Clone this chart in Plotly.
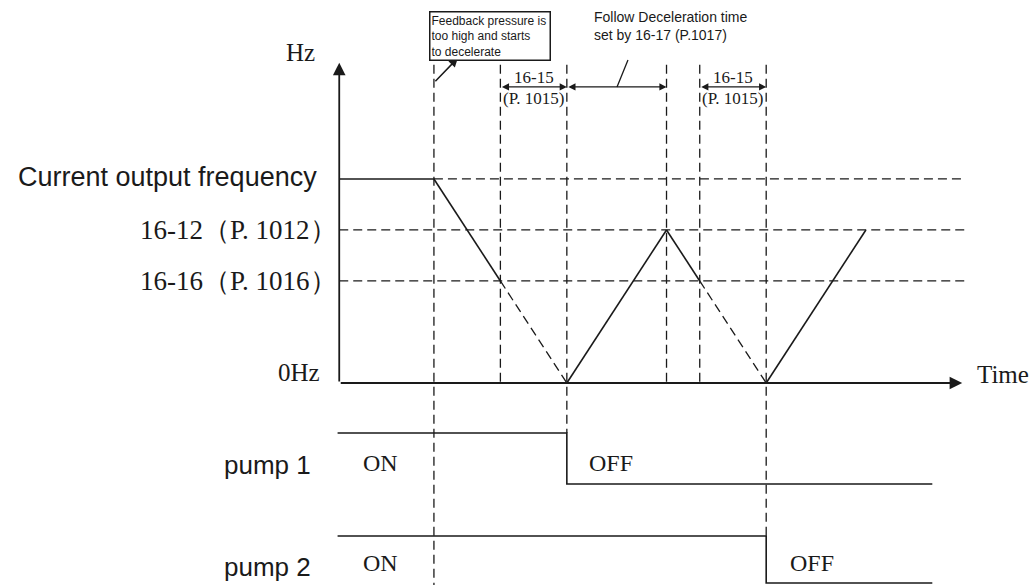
import plotly.graph_objects as go

# ---------------- data (time units / normalised frequency units) ----------------
EVENT_T = [3, 5, 7, 10, 11, 13, 16]          # event instants on the time axis
AXIS_T0 = 0.15                                # origin of the time axis
AXIS_T_END = 18.9                             # arrow tip of the time axis
REF_T_END = 19.0                              # end of horizontal reference lines
FREQ_TOP = 1.57                               # arrow tip of the Hz axis

LEVEL_NAMES = ["Current output frequency", "16-12（P. 1012）", "16-16（P. 1016）", "0Hz"]
LEVEL_VALUES = [1.0, 0.75, 0.5, 0.0]

CURVE_T = [0.15, 3, 5, 7, 10, 11, 13, 16]
CURVE_F = [1.0, 1.0, 0.5, 0.0, 0.75, 0.5, 0.0, 0.75]
CURVE_SEG_STYLE = ["solid", "solid", "dash", "solid", "solid", "dash", "solid"]

VLINE_T = [3, 5, 7, 10, 11, 13]
VLINE_TOP = [1.56, 1.56, 1.56, 1.56, 1.56, 1.56]
VLINE_BOTTOM = [-0.99, 0.0, -0.245, 0.0, 0.0, -0.75]

PUMP_NAMES = ["pump 1", "pump 2"]
PUMP1_T = [0.1, 7, 7, 18]
PUMP1_V = [-0.245, -0.245, -0.495, -0.495]
PUMP2_T = [0.1, 13, 13, 18]
PUMP2_V = [-0.75, -0.75, -0.98, -0.98]
PUMP_STATE_TEXT = ["ON", "OFF"]

DIM_SPANS = [(5, 7, "16-15", "(P. 1015)"), (7, 10, None, None), (11, 13, "16-15", "(P. 1015)")]

INK = "#1a1a1a"
SERIF = "Liberation Serif, DejaVu Serif, serif"
SANS = "Liberation Sans, Arial, sans-serif"

fig = go.Figure()

def seg(xs, ys, dash="solid", width=1.6):
    fig.add_trace(go.Scatter(x=xs, y=ys, mode="lines", hoverinfo="skip", showlegend=False,
                             line=dict(color=INK, width=width, dash=dash)))

DASH = "9px,5px"

# horizontal reference lines
seg([EVENT_T[0], REF_T_END], [LEVEL_VALUES[0]] * 2, DASH, 1.3)
for v in LEVEL_VALUES[1:3]:
    seg([AXIS_T0, REF_T_END], [v, v], DASH, 1.3)

# vertical event lines
for t, top, bot in zip(VLINE_T, VLINE_TOP, VLINE_BOTTOM):
    seg([t, t], [top, bot], DASH, 1.3)

# frequency curve
for i, st in enumerate(CURVE_SEG_STYLE):
    seg(CURVE_T[i:i + 2], CURVE_F[i:i + 2], "solid" if st == "solid" else DASH, 1.6 if st == "solid" else 1.3)

# pumps
seg(PUMP1_T, PUMP1_V, "solid", 1.6)
seg(PUMP2_T, PUMP2_V, "solid", 1.6)

ann = []

def arrow(x, y, ax, ay, both=False, size=1.0, width=1.4):
    ann.append(dict(x=x, y=y, ax=ax, ay=ay, xref="x", yref="y", axref="x", ayref="y",
                    showarrow=True, arrowhead=2, startarrowhead=2, arrowsize=size,
                    arrowwidth=width, arrowcolor=INK, text="",
                    arrowside="end+start" if both else "end"))

# axes with arrows
arrow(AXIS_T0, FREQ_TOP, AXIS_T0, 0.0, size=1.4, width=1.8)
arrow(AXIS_T_END, 0.0, AXIS_T0, 0.0, size=1.4, width=1.8)

def text(x, y, s, size, font=SERIF, xanchor="center", yanchor="middle", **kw):
    ann.append(dict(x=x, y=y, xref="x", yref="y", text=s, showarrow=False,
                    xanchor=xanchor, yanchor=yanchor,
                    font=dict(family=font, size=size, color=INK), **kw))

text(-1.03, 1.62, "Hz", 25)
text(19.28, 0.04, "Time", 25, xanchor="left")

# level labels
text(-0.45, 1.01, LEVEL_NAMES[0], 27, font=SANS, xanchor="right")
text(0.15, 0.75, LEVEL_NAMES[1], 27, xanchor="right")
text(0.15, 0.5, LEVEL_NAMES[2], 27, xanchor="right")
text(-0.38, 0.05, LEVEL_NAMES[3], 25, xanchor="right")

# pump labels and states
text(-0.65, -0.402, PUMP_NAMES[0], 26, font=SANS, xanchor="right")
text(-0.65, -0.902, PUMP_NAMES[1], 26, font=SANS, xanchor="right")
text(1.38, -0.392, PUMP_STATE_TEXT[0], 24)
text(8.33, -0.392, PUMP_STATE_TEXT[1], 24)
text(1.38, -0.882, PUMP_STATE_TEXT[0], 24)
text(14.37, -0.882, PUMP_STATE_TEXT[1], 24)

# dimension arrows
DIM_Y = 1.451
for a, b, l1, l2 in DIM_SPANS:
    arrow(b, DIM_Y, a, DIM_Y, both=True, size=1.1, width=1.3)
    if l1:
        text((a + b) / 2, 1.497, l1, 17)
        text((a + b) / 2, 1.392, l2, 17)

# leader for "Follow Deceleration time"
seg([8.51, 8.84], [1.451, 1.583], "solid", 1.3)
text(7.755, 1.748, "Follow Deceleration time<br>set by 16-17 (P.1017)", 14, font=SANS,
     xanchor="left", align="left")

# feedback box with arrow
arrow(3.72, 1.593, 3.0, 1.471, size=1.2, width=1.5)
ann.append(dict(x=4.70, y=1.699, xref="x", yref="y", showarrow=False,
                text="Feedback pressure is<br>too high and starts<br>to decelerate",
                xanchor="center", yanchor="middle", align="left", width=117,
                bordercolor=INK, borderwidth=1.5, borderpad=1, bgcolor="white",
                font=dict(family=SANS, size=12, color=INK)))

fig.update_layout(
    width=1033, height=585,
    margin=dict(l=0, r=0, t=0, b=0),
    paper_bgcolor="white", plot_bgcolor="white",
    xaxis=dict(range=[-10.06, 21.03], visible=False, fixedrange=True),
    yaxis=dict(range=[-0.99, 1.877], visible=False, fixedrange=True),
    annotations=ann,
    showlegend=False,
)

fig.write_html("out.html", config={"displayModeBar": False, "staticPlot": True},
               post_script="document.body.style.margin='0';document.body.style.overflow='hidden';")
